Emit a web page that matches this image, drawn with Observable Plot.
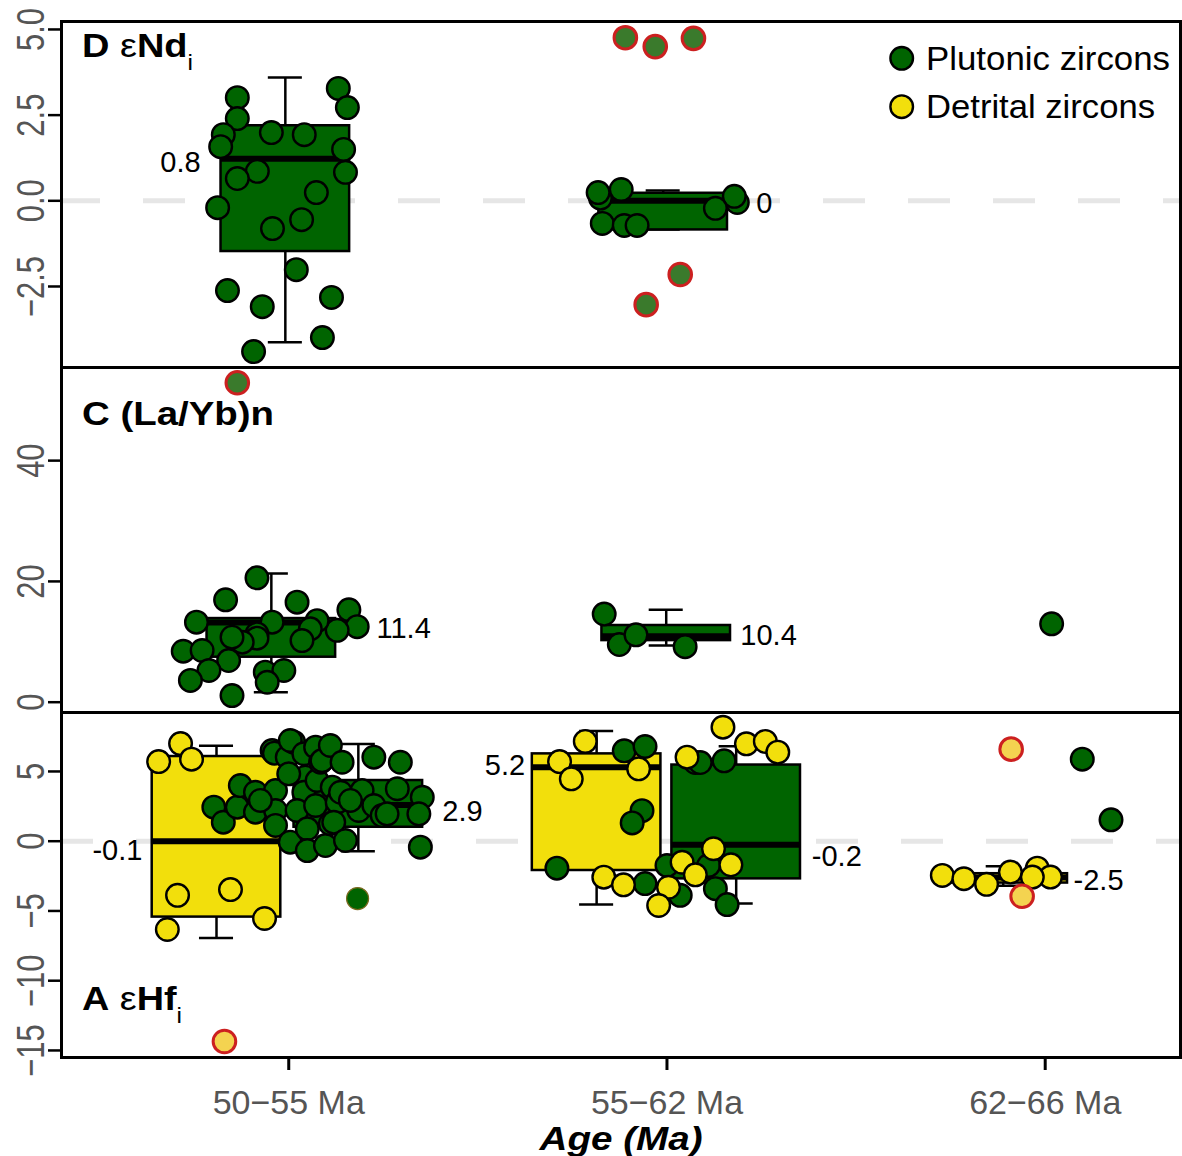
<!DOCTYPE html>
<html>
<head>
<meta charset="utf-8">
<script src="https://cdn.jsdelivr.net/npm/d3@7"></script>
<script src="https://cdn.jsdelivr.net/npm/@observablehq/plot@0.6"></script>
<style>
  body { margin: 0; background: #fff; }
  #wrap { position: relative; width: 1182px; height: 1156px; background: #fff; font-family: "Liberation Sans", Arial, sans-serif; }
  #wrap > svg { position: absolute; left: 0; overflow: visible; }
</style>
</head>
<body>
<div id="wrap"></div>
<script>
// ---------- categories & tick labels ----------
const categories = ["50−55 Ma", "55−62 Ma", "62−66 Ma"];
const ndTicks = [-2.5, 0, 2.5, 5];
const laybTicks = [0, 20, 40];
const hfTicks = [-15, -10, -5, 0, 5];

// ---------- Panel D: εNd_i  [category, jitter, value] ----------
const ndPlutonic = [
  [1,-0.136,3.01],[1,-0.136,2.40],[1,-0.173,1.93],[1,-0.180,1.58],[1,-0.046,1.99],
  [1,0.041,1.93],[1,0.131,3.28],[1,0.155,2.72],[1,0.145,1.50],[1,0.150,0.83],
  [1,-0.083,0.86],[1,-0.136,0.65],[1,0.073,0.24],[1,-0.188,-0.20],[1,0.034,-0.55],
  [1,-0.043,-0.81],[1,0.020,-2.01],[1,-0.162,-2.62],[1,-0.070,-3.09],[1,0.113,-2.82],
  [1,0.089,-3.99],[1,-0.093,-4.40],
  [2,-0.176,0.08],[2,0.186,-0.05],[2,-0.182,0.24],[2,-0.121,0.33],[2,0.178,0.13],
  [2,0.128,-0.22],[2,-0.171,-0.66],[2,-0.113,-0.72],[2,-0.079,-0.72]
];
const ndOutliers = [
  [2,-0.110,4.76],[2,-0.031,4.50],[2,0.070,4.74],[2,0.035,-2.15],[2,-0.055,-3.03]
];
// box statistics: category, dodge, q1, median, q3, whisker low, whisker high, series
const ndBoxes = [
  {cat:1, dodge:-0.009, q1:-1.48, med:1.23, q3:2.19, lo:-4.13, hi:3.60, series:"Plutonic"},
  {cat:2, dodge:-0.010, q1:-0.85, med:0.0, q3:0.22, lo:-0.84, hi:0.30, series:"Plutonic"}
];
const ndLabels = [[0.767, 1.12, "0.8", "end"], [2.236, -0.08, "0", "start"]];

// ---------- Panel C: (La/Yb)n ----------
const laybPlutonic = [
  [1,-0.084,20.6],[1,-0.167,16.95],[1,0.022,16.56],[1,-0.244,13.25],[1,0.159,15.3],
  [1,0.181,12.5],[1,0.128,11.9],[1,0.075,13.5],[1,0.057,12.15],[1,0.035,10.2],
  [1,-0.044,13.25],[1,-0.084,11.3],[1,-0.084,10.6],[1,-0.123,9.93],[1,-0.150,10.76],
  [1,-0.279,8.44],[1,-0.229,8.56],[1,-0.159,6.9],[1,-0.211,5.25],[1,-0.260,3.6],
  [1,-0.062,4.97],[1,-0.013,5.25],[1,-0.057,3.3],[1,-0.150,1.1],
  [2,-0.166,14.6],[2,-0.126,9.55],[2,-0.082,11.15],[2,0.048,9.2],
  [3,0.017,12.98]
];
const laybOutliers = [[1,-0.136,52.9]];
const laybBoxes = [
  {cat:1, dodge:-0.046, q1:7.45, med:13.2, q3:13.85, lo:1.66, hi:21.3, series:"Plutonic"},
  {cat:2, dodge:-0.002, q1:10.2, med:10.93, q3:12.7, lo:9.4, hi:15.3, series:"Plutonic"}
];
const laybLabels = [[1.232, 12.2, "11.4", "start"], [2.194, 10.96, "10.4", "start"]];

// ---------- Panel A: εHf_i ----------
const hfPlutonic = [
  [1,-0.198,2.44],[1,-0.173,1.36],[1,-0.136,2.44],[1,-0.128,3.99],[1,-0.088,3.51],
  [1,-0.088,2.08],[1,-0.035,3.63],[1,-0.035,2.20],[1,-0.035,1.13],[1,-0.044,6.50],
  [1,-0.038,6.31],[1,-0.004,6.02],[1,0.013,7.10],[1,0.004,7.22],[1,0.040,6.27],
  [1,0.071,6.74],[1,0.044,4.59],[1,0.000,4.83],[1,0.040,3.51],[1,0.022,2.20],
  [1,0.004,-0.07],[1,0.049,0.89],[1,0.071,2.56],[1,0.075,4.35],[1,0.084,5.66],
  [1,0.088,5.78],[1,0.110,6.86],[1,0.049,-0.67],[1,0.097,-0.31],[1,0.115,3.87],
  [1,0.110,1.25],[1,0.128,2.80],[1,0.141,5.66],[1,0.225,6.02],[1,0.295,5.66],
  [1,0.137,3.51],[1,0.194,3.63],[1,0.287,3.76],[1,0.353,3.15],[1,0.119,1.36],
  [1,0.185,2.20],[1,0.225,2.56],[1,0.247,1.84],[1,0.260,1.96],[1,0.344,1.96],
  [1,0.150,0.05],[1,0.348,-0.43],[1,0.163,2.92],[1,-0.075,2.92],
  [2,-0.113,6.48],[2,-0.058,6.79],[2,-0.066,2.19],[2,-0.092,1.31],[2,-0.291,-1.93],
  [2,-0.058,-3.04],[2,0.000,-1.74],[2,0.035,-3.88],[2,0.075,5.64],[2,0.088,5.64],
  [2,0.151,5.76],[2,0.110,-1.74],[2,0.128,-3.40],[2,0.159,-4.54],
  [3,0.098,5.88],[3,0.174,1.53]
];
const hfDetrital = [
  [1,-0.344,5.71],[1,-0.286,7.0],[1,-0.257,5.88],[1,-0.294,-3.88],[1,-0.154,-3.47],
  [1,-0.321,-6.33],[1,-0.064,-5.54],
  [2,-0.216,7.15],[2,-0.284,5.71],[2,-0.253,4.47],[2,-0.075,5.19],[2,-0.167,-2.58],
  [2,-0.115,-3.13],[2,0.004,-3.30],[2,0.040,-1.51],[2,0.075,-2.41],[2,-0.022,-4.61],
  [2,0.123,-0.54],[2,0.169,-1.69],[2,0.053,6.02],[2,0.148,8.17],[2,0.210,6.98],
  [2,0.260,7.15],[2,0.293,6.38],
  [3,-0.272,-2.45],[3,-0.215,-2.69],[3,-0.155,-3.09],[3,-0.092,-2.21],[3,-0.021,-1.93],
  [3,0.014,-2.57],[3,-0.034,-2.57]
];
const hfPlutonicOutliers = [[1,0.182,-4.11]];
const hfDetritalOutliers = [[1,-0.170,-14.36],[3,-0.090,6.60],[3,-0.061,-3.95]];
const hfBoxes = [
  {cat:1, dodge:-0.191, q1:-5.44, med:0.0, q3:6.07, lo:-6.93, hi:6.84, series:"Detrital"},
  {cat:1, dodge:0.184, q1:1.0, med:2.6, q3:4.35, lo:-0.72, hi:6.96, series:"Plutonic"},
  {cat:2, dodge:-0.186, q1:-2.10, med:5.30, q3:6.26, lo:-4.54, hi:7.9, series:"Detrital"},
  {cat:2, dodge:0.183, q1:-2.70, med:-0.26, q3:5.46, lo:-4.47, hi:6.8, series:"Plutonic"},
  {cat:3, dodge:-0.111, q1:-3.0, med:-2.6, q3:-2.33, lo:-3.2, hi:-1.79, series:"Detrital"}
];
const hfLabels = [
  [0.613, -0.67, "-0.1", "end"], [1.406, 2.13, "2.9", "start"], [1.625, 5.43, "5.2", "end"],
  [2.383, -1.10, "-0.2", "start"], [3.075, -2.82, "-2.5", "start"]
];

// ---------- styling ----------
const GREEN = "#006400", YELLOW = "#F2DF0C";
const OUT_GREEN = "#3A7A2C", OUT_YELLOW = "#F4D350", RED = "#CC2020";
const FONT = "'Liberation Sans', Arial, sans-serif";
const seriesFill = s => s === "Plutonic" ? GREEN : YELLOW;
const XDOMAIN = [0.3992, 3.3577];
const fmtMinus = (d, digits) => (d < 0 ? "−" : "") + Math.abs(d).toFixed(digits);

function boxMarks(boxes) {
  const HW = 0.17, CW = 0.045;
  const cx = d => d.cat + d.dodge;
  const line = {stroke: "black", strokeWidth: 2.5};
  return [
    Plot.ruleX(boxes, {x: cx, y1: "lo", y2: "hi", ...line}),
    Plot.ruleY(boxes, {y: "lo", x1: d => cx(d) - CW, x2: d => cx(d) + CW, ...line}),
    Plot.ruleY(boxes, {y: "hi", x1: d => cx(d) - CW, x2: d => cx(d) + CW, ...line}),
    Plot.rect(boxes, {x1: d => cx(d) - HW, x2: d => cx(d) + HW, y1: "q1", y2: "q3",
      fill: d => seriesFill(d.series), stroke: "black", strokeWidth: 2.5}),
    Plot.ruleY(boxes, {y: "med", x1: d => cx(d) - HW, x2: d => cx(d) + HW, stroke: "black", strokeWidth: 6})
  ];
}
function dots(arr, fill, stroke = "black", strokeWidth = 2.4, r = 11.3) {
  return Plot.dot(arr, {x: d => d[0] + d[1], y: d => d[2], r, fill, stroke, strokeWidth});
}
function labelMarks(arr) {
  return ["start", "end"].map(a => Plot.text(arr.filter(d => d[3] === a), {
    x: d => d[0], y: d => d[1], text: d => d[2], textAnchor: a, fontSize: 29, fill: "black"
  }));
}
function yAxis(ticks, fmt) {
  return Plot.axisY(ticks, {tickSize: 13, tickPadding: 5, tickRotate: -90, fontSize: 31,
    tickFormat: fmt, label: null, stroke: "black", strokeWidth: 2.5, fill: "#555555"});
}
const zeroLine = (offset) => Plot.ruleY([0], {stroke: "#E6E6E6", strokeWidth: 5, strokeDasharray: "42,43", strokeDashoffset: offset});

function panel({height, top, marginTop, marginBottom, yDomain, marks}) {
  const svg = Plot.plot({
    width: 1182, height, marginLeft: 61, marginRight: 2, marginTop, marginBottom,
    x: {type: "linear", domain: XDOMAIN, axis: null},
    y: {domain: yDomain, axis: null},
    color: {type: "identity"},
    style: {fontFamily: FONT, background: "transparent", overflow: "visible"},
    marks
  });
  svg.style.top = top + "px";
  // taller rotated tick-label glyphs, as in the reference rendering
  svg.querySelectorAll('g[aria-label="y-axis tick label"] text').forEach(t => {
    t.setAttribute("transform", (t.getAttribute("transform") || "") + " scale(1,1.25)");
  });
  return svg;
}

const wrap = document.getElementById("wrap");

// Panel C (middle)
wrap.appendChild(panel({
  height: 345, top: 367, marginTop: 0, marginBottom: 0, yDomain: [-1.705, 55.42],
  marks: [
    ...boxMarks(laybBoxes),
    dots(laybPlutonic, GREEN),
    dots(laybOutliers, OUT_GREEN, RED, 3),
    ...labelMarks(laybLabels),
    yAxis(laybTicks, d => fmtMinus(d, 0)),
    Plot.frame({stroke: "black", strokeWidth: 3})
  ]
}));

// Panel A (bottom)
wrap.appendChild(panel({
  height: 444, top: 712, marginTop: 0, marginBottom: 99, yDomain: [-15.505, 9.226],
  marks: [
    zeroLine(10),
    ...boxMarks(hfBoxes),
    dots(hfPlutonic, GREEN),
    dots(hfPlutonicOutliers, GREEN, "#7A6A20", 1.2, 11),
    dots(hfDetrital, YELLOW),
    dots(hfDetritalOutliers, OUT_YELLOW, RED, 3),
    ...labelMarks(hfLabels),
    yAxis(hfTicks, d => fmtMinus(d, 0)),
    Plot.axisX([1, 2, 3], {tickSize: 13, tickPadding: 19, fontSize: 34, label: null,
      tickFormat: d => categories[d - 1], stroke: "black", strokeWidth: 3, fill: "#555555"}),
    Plot.frame({stroke: "black", strokeWidth: 3})
  ]
}));

// Panel D (top)
wrap.appendChild(panel({
  height: 367, top: 0, marginTop: 21, marginBottom: 0, yDomain: [-4.864, 5.232],
  marks: [
    zeroLine(3),
    ...boxMarks(ndBoxes),
    dots(ndPlutonic, GREEN),
    dots(ndOutliers, OUT_GREEN, RED, 3),
    ...labelMarks(ndLabels),
    yAxis(ndTicks, d => fmtMinus(d, 1)),
    Plot.frame({stroke: "black", strokeWidth: 3})
  ]
}));

// ---------- overlay: panel titles, legend, x-axis title ----------
const NS = "http://www.w3.org/2000/svg";
const ov = document.createElementNS(NS, "svg");
ov.setAttribute("width", 1182); ov.setAttribute("height", 1156);
ov.style.top = "0px"; ov.style.pointerEvents = "none";
ov.setAttribute("font-family", FONT);
ov.innerHTML = `
  <text x="82" y="57" font-size="34" textLength="111" lengthAdjust="spacingAndGlyphs"><tspan font-weight="bold">D</tspan> ε<tspan font-weight="bold">Nd</tspan><tspan font-size="22" dy="13">i</tspan></text>
  <text x="82" y="425" font-size="34" font-weight="bold" textLength="192" lengthAdjust="spacingAndGlyphs">C (La/Yb)n</text>
  <text x="82" y="1010" font-size="34" textLength="100" lengthAdjust="spacingAndGlyphs"><tspan font-weight="bold">A</tspan> ε<tspan font-weight="bold">Hf</tspan><tspan font-size="22" dy="13">i</tspan></text>
  <circle cx="901.7" cy="58.3" r="11.3" fill="${GREEN}" stroke="black" stroke-width="2.4"/>
  <text x="926" y="70" font-size="33" textLength="244" lengthAdjust="spacingAndGlyphs">Plutonic zircons</text>
  <circle cx="901.7" cy="106.7" r="11.3" fill="${YELLOW}" stroke="black" stroke-width="2.4"/>
  <text x="926" y="118.3" font-size="33" textLength="229" lengthAdjust="spacingAndGlyphs">Detrital zircons</text>
  <text x="621" y="1150" font-size="34" font-weight="bold" font-style="italic" text-anchor="middle" textLength="163" lengthAdjust="spacingAndGlyphs">Age (Ma)</text>
`;
wrap.appendChild(ov);
</script>
</body>
</html>
